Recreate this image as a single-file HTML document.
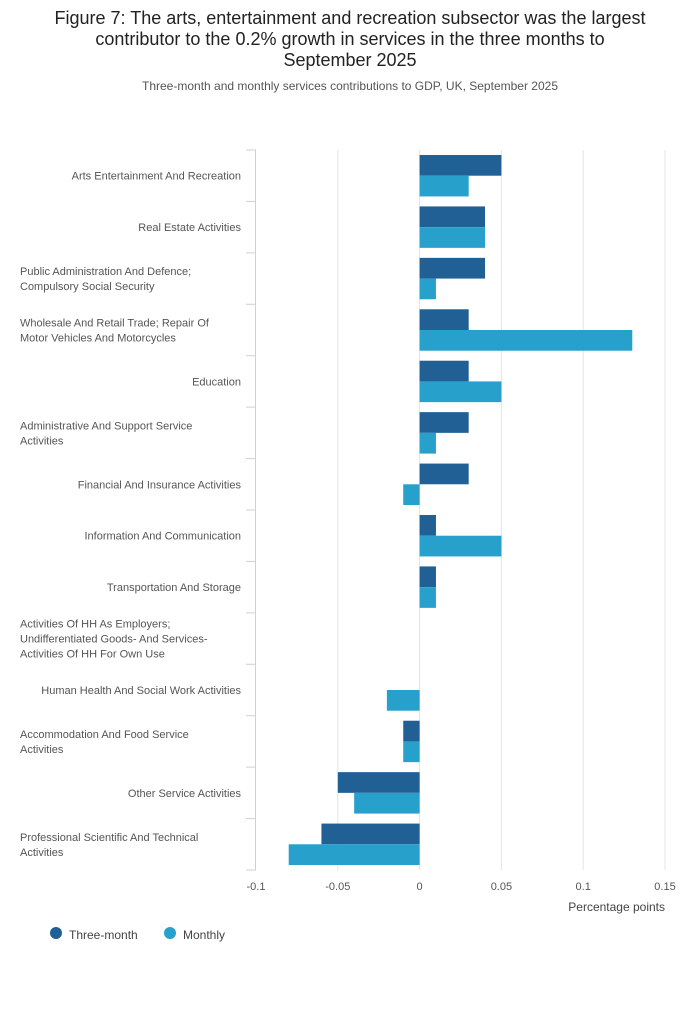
<!DOCTYPE html>
<html><head><meta charset="utf-8"><style>
body{margin:0;background:#fff;font-family:"Liberation Sans",sans-serif;}
svg text{font-family:"Liberation Sans",sans-serif;}
</style></head><body>
<svg id="chart" width="700" height="1020" xmlns="http://www.w3.org/2000/svg">
<text x="350" y="24" text-anchor="middle" font-size="18" fill="#222">Figure 7: The arts, entertainment and recreation subsector was the largest</text>
<text x="350" y="45" text-anchor="middle" font-size="18" fill="#222">contributor to the 0.2% growth in services in the three months to</text>
<text x="350" y="66" text-anchor="middle" font-size="18" fill="#222">September 2025</text>
<text x="350" y="90" text-anchor="middle" font-size="12" fill="#555">Three-month and monthly services contributions to GDP, UK, September 2025</text>
<g id="grid"></g><g id="bars"></g><g id="axes"></g>
<text x="665" y="911" text-anchor="end" font-size="12" fill="#444">Percentage points</text>
<g>
<circle cx="56" cy="933" r="6" fill="#206095"/>
<text x="69" y="939" font-size="12" fill="#444">Three-month</text>
<circle cx="170" cy="933" r="6" fill="#27a0cc"/>
<text x="183" y="939" font-size="12" fill="#444">Monthly</text>
</g>
</svg>
<script>
const categories=[["Arts Entertainment And Recreation"],["Real Estate Activities"],["Public Administration And Defence;","Compulsory Social Security"],["Wholesale And Retail Trade; Repair Of","Motor Vehicles And Motorcycles"],["Education"],["Administrative And Support Service","Activities"],["Financial And Insurance Activities"],["Information And Communication"],["Transportation And Storage"],["Activities Of HH As Employers;","Undifferentiated Goods- And Services-","Activities Of HH For Own Use"],["Human Health And Social Work Activities"],["Accommodation And Food Service","Activities"],["Other Service Activities"],["Professional Scientific And Technical","Activities"]];
const threeMonth=[0.05,0.04,0.04,0.03,0.03,0.03,0.03,0.01,0.01,0,0,-0.01,-0.05,-0.06];
const monthly=[0.03,0.04,0.01,0.13,0.05,0.01,-0.01,0.05,0.01,0,-0.02,-0.01,-0.04,-0.08];
const ticks=[-0.1,-0.05,0,0.05,0.1,0.15];
const tickLabels=["-0.1","-0.05","0","0.05","0.1","0.15"];
const NS="http://www.w3.org/2000/svg";
const x0=256,x1=665,plotTop=150,plotBot=870;
const xs=v=>x0+(v-(-0.1))/(0.25)*(x1-x0);
const band=(plotBot-plotTop)/categories.length;
function mk(t,a,p){const e=document.createElementNS(NS,t);for(const k in a)e.setAttribute(k,a[k]);p.appendChild(e);return e;}
const grid=document.getElementById('grid'),bars=document.getElementById('bars'),axes=document.getElementById('axes');
ticks.forEach((t,i)=>{
 if(i>0){const g=mk('line',{x1:xs(t),x2:xs(t),y1:plotTop,y2:plotBot,stroke:'#e4e4e4','stroke-width':1},grid);
 
 }
 const l=mk('text',{x:xs(t),y:plotBot+20,'text-anchor':'middle','font-size':11,fill:'#555'},axes);
 l.textContent=tickLabels[i];
 
 
});
const ax=mk('line',{x1:x0-0.5,x2:x0-0.5,y1:plotTop,y2:plotBot,stroke:'#ccd0dd','stroke-width':1},axes);


for(let i=0;i<=categories.length;i++){
 const y=plotTop+i*band;
 const tk=mk('line',{x1:x0-10,x2:x0,y1:y,y2:y,stroke:'#ccd0dd','stroke-width':1},axes);
 
 
}
const bh=(band-10)/2;
categories.forEach((c,i)=>{
 const yb=plotTop+i*band+5;
 const lines=c;
 const multi=lines.length>1;
 const cy=plotTop+(i+0.5)*band;
 lines.forEach((s,j)=>{
  const t=mk('text',{x:multi?20:241,y:cy+4+(j-(lines.length-1)/2)*15,'text-anchor':multi?'start':'end','font-size':11,fill:'#555'},axes);
  t.textContent=s;
  
  
 });
 [[threeMonth[i],'#206095',0],[monthly[i],'#27a0cc',1]].forEach(([v,col,k])=>{
  if(v===0)return;
  const xa=xs(Math.min(0,v)),xb=xs(Math.max(0,v));
  const r=mk('rect',{x:xa,y:yb+k*bh,width:xb-xa,height:bh,fill:col},bars);
  
  
 });
});
</script>
</body></html>
